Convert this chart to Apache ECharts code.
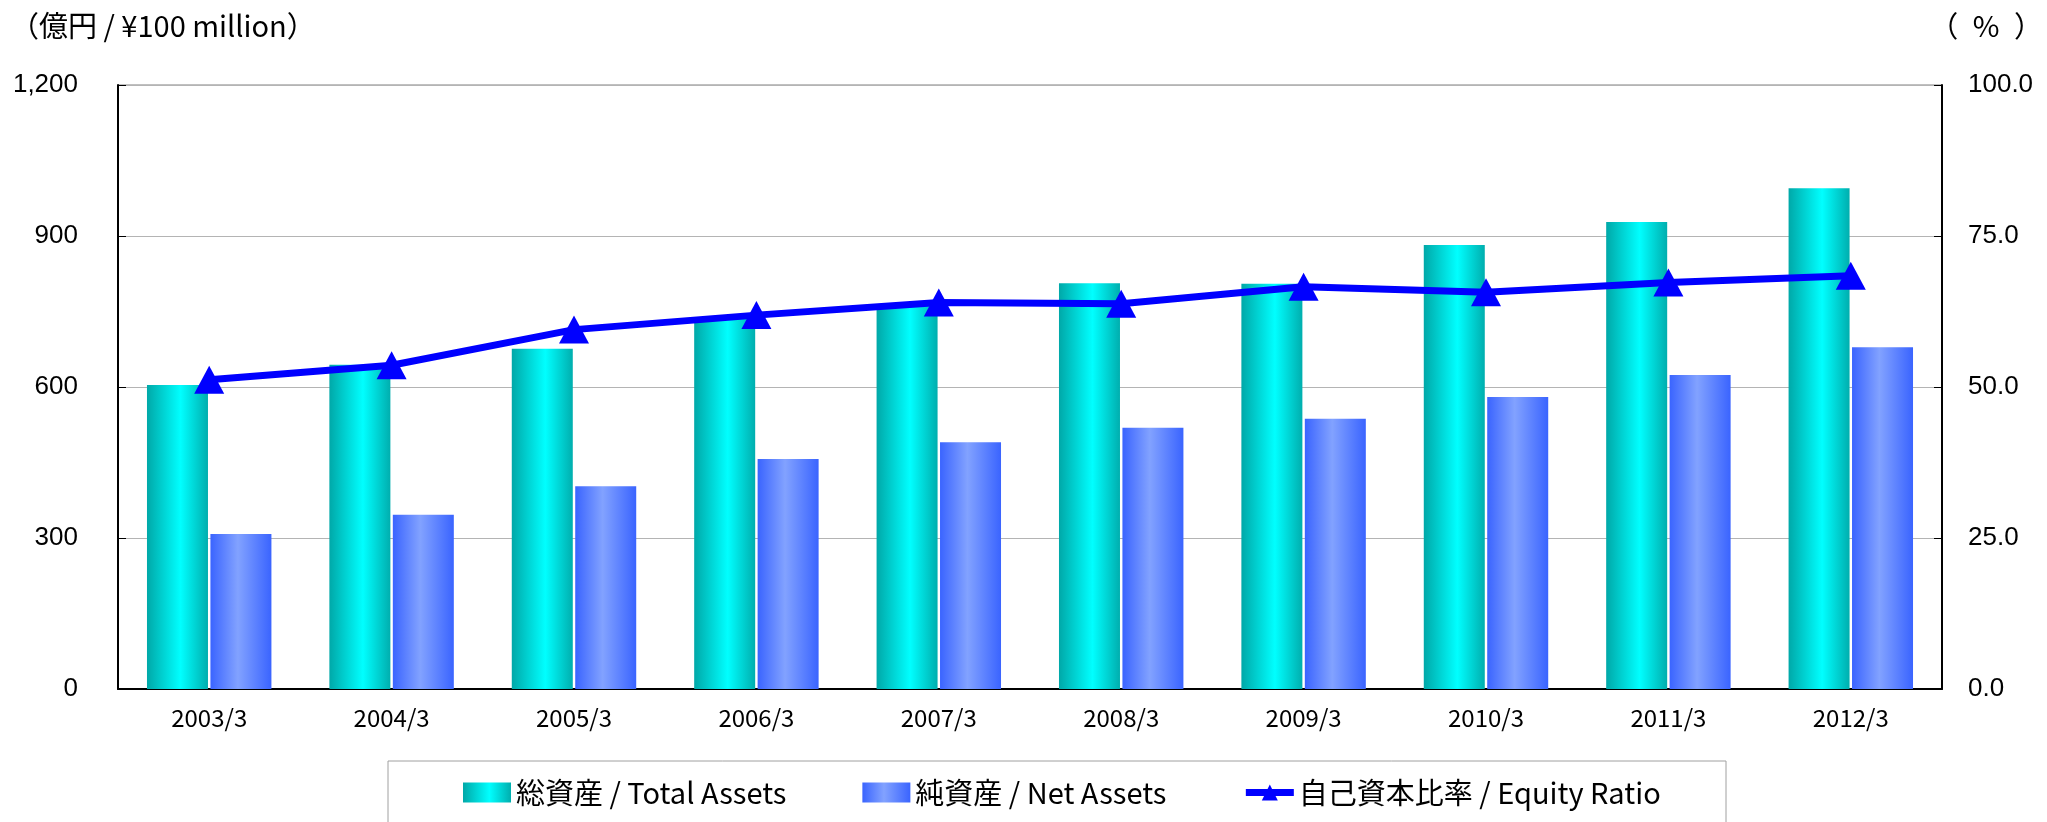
<!DOCTYPE html>
<html>
<head>
<meta charset="utf-8">
<script src="https://cdn.jsdelivr.net/npm/echarts@6/dist/echarts.min.js"></script>
<style>
  html, body { margin: 0; padding: 0; background: #fff; }
  #chart { width: 2047px; height: 822px; }
</style>
</head>
<body>
<div id="chart"></div>
<script>
// 年度と各系列の値
const years = ['2003/3', '2004/3', '2005/3', '2006/3', '2007/3', '2008/3', '2009/3', '2010/3', '2011/3', '2012/3']
const totalAssets = [604, 644, 676, 735, 762, 806, 805, 882, 928, 995]
const netAssets = [308, 346, 403, 457, 490, 519, 537, 580, 624, 679]
const equityRatio = [51.2, 53.6, 59.5, 61.9, 64.0, 63.8, 66.6, 65.7, 67.3, 68.4]

const leftTicks = [0, 300, 600, 900, 1200]
const rightTicks = [0, 25, 50, 75, 100]

const chart = echarts.init(document.getElementById('chart'))

const tealGradient = new echarts.graphic.LinearGradient(0, 0, 1, 0, [
  { offset: 0, color: '#00A8A8' },
  { offset: 0.55, color: '#00FFFF' },
  { offset: 1, color: '#00AEAE' }
])
const blueGradient = new echarts.graphic.LinearGradient(0, 0, 1, 0, [
  { offset: 0, color: '#3A64FF' },
  { offset: 0.45, color: '#82A2FF' },
  { offset: 1, color: '#3A64FF' }
])

const labelFont = 'Liberation Sans, Arial, sans-serif'
const jpFont = '"Noto Sans CJK JP", sans-serif'

const option = {
  backgroundColor: '#fff',
  animation: false,
  grid: {
    left: 118,
    right: 105,
    top: 85,
    bottom: 133,
    show: true,
    borderColor: '#808080',
    borderWidth: 1
  },
  legend: {
    bottom: 10,
    left: 458,
    itemGap: 76,
    itemWidth: 48,
    itemHeight: 20,
    textStyle: { fontFamily: jpFont, fontSize: 29, color: '#000' },
    data: [
      { name: '総資産 / Total Assets', icon: 'rect' },
      { name: '純資産 / Net Assets', icon: 'rect' },
      { name: '自己資本比率 / Equity Ratio', lineStyle: { width: 7 } }
    ]
  },
  graphic: [
    {
      type: 'rect',
      shape: { x: 388, y: 761, width: 1338, height: 80 },
      style: { fill: 'none', stroke: '#A0A0A0', lineWidth: 1 },
      silent: true
    },
    {
      type: 'text',
      left: 10,
      top: 11,
      style: { text: '（億円 / ¥100 million）', font: '29px ' + jpFont, fill: '#000' }
    },
    {
      type: 'text',
      right: 4,
      top: 11,
      style: { text: '（\u2002%\u2002）', font: '29px ' + jpFont, fill: '#000' }
    }
  ],
  xAxis: {
    type: 'category',
    data: years,
    axisLine: { lineStyle: { color: '#000', width: 2 } },
    axisTick: { inside: true, length: 7, lineStyle: { color: '#888' } },
    axisLabel: { fontFamily: jpFont, fontSize: 24, color: '#000', margin: 17 }
  },
  yAxis: [
    {
      type: 'value',
      min: leftTicks[0],
      max: leftTicks[leftTicks.length - 1],
      interval: 300,
      axisLine: { show: true, lineStyle: { color: '#000', width: 2 } },
      axisTick: { show: true, inside: true, length: 8, lineStyle: { color: '#000' } },
      splitLine: { lineStyle: { color: '#B4B4B4', width: 1 } },
      axisLabel: {
        fontFamily: labelFont,
        fontSize: 26,
        color: '#000',
        margin: 40,
        formatter: (v) => v.toLocaleString('en-US')
      }
    },
    {
      type: 'value',
      min: rightTicks[0],
      max: rightTicks[rightTicks.length - 1],
      interval: 25,
      position: 'right',
      axisLine: { show: true, lineStyle: { color: '#000', width: 2 } },
      axisTick: { show: true, inside: true, length: 8, lineStyle: { color: '#000' } },
      splitLine: { show: false },
      axisLabel: {
        fontFamily: labelFont,
        fontSize: 26,
        color: '#000',
        margin: 26,
        formatter: (v) => v.toFixed(1)
      }
    }
  ],
  series: [
    {
      name: '総資産 / Total Assets',
      type: 'bar',
      data: totalAssets,
      barWidth: 61,
      barGap: '4%',
      itemStyle: { color: tealGradient }
    },
    {
      name: '純資産 / Net Assets',
      type: 'bar',
      data: netAssets,
      barWidth: 61,
      itemStyle: { color: blueGradient }
    },
    {
      name: '自己資本比率 / Equity Ratio',
      type: 'line',
      yAxisIndex: 1,
      data: equityRatio,
      symbol: 'triangle',
      symbolSize: [30, 28],
      z: 5,
      lineStyle: { color: '#0000FF', width: 7 },
      itemStyle: { color: '#0000FF' }
    }
  ]
}

chart.setOption(option)
</script>
</body>
</html>
